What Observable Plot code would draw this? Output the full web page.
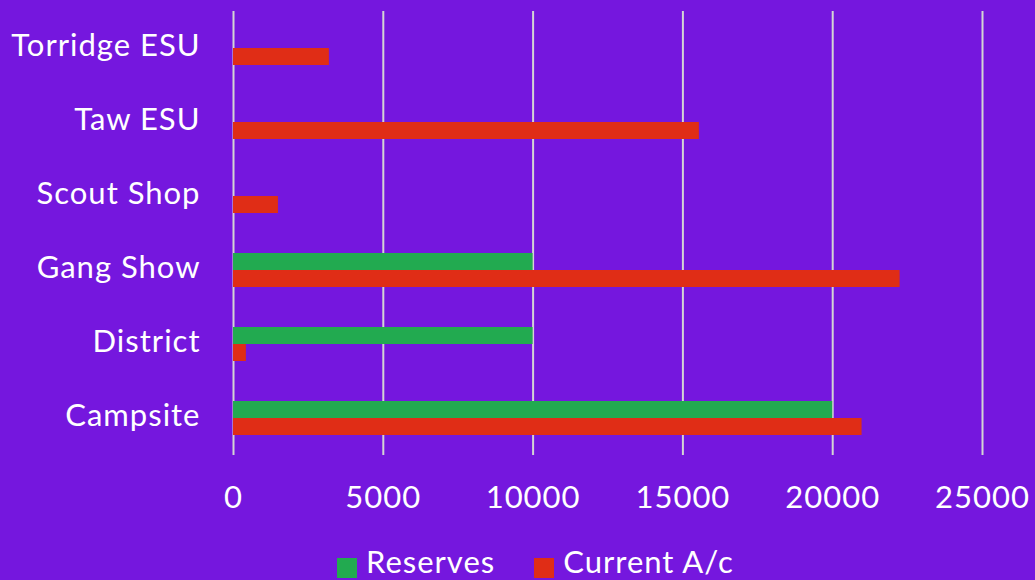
<!DOCTYPE html>
<html>
<head>
<meta charset="utf-8">
<script src="https://cdn.jsdelivr.net/npm/d3@7"></script>
<script src="https://cdn.jsdelivr.net/npm/@observablehq/plot@0.6"></script>
<style>
  html, body { margin: 0; padding: 0; background: #7517DE; overflow: hidden; }
  #chart { width: 1035px; height: 580px; background: #7517DE; font-family: Lato, sans-serif; color: #fff; }
  #chart svg text { letter-spacing: 1px; }
  .legend { display: flex; align-items: baseline; padding-left: 337px; padding-top: 7px; line-height: 37px; height: 37px; font-size: 31px; letter-spacing: 1px; }
  .legend .item { display: inline-flex; align-items: baseline; margin-right: 39px; white-space: nowrap; }
  .legend .sw { display: inline-block; width: 20px; height: 20px; margin-right: 9px; align-self: flex-end; margin-bottom: 2px; }
</style>
</head>
<body>
<div id="chart"></div>
<script>
// Funds held by each part of the district, split into reserves and current account
const categories = ["Torridge ESU", "Taw ESU", "Scout Shop", "Gang Show", "District", "Campsite"];
const series = ["Reserves", "Current A/c"];
const reserves = [null, null, null, 10000, 10000, 20000];
const current = [3200, 15550, 1500, 22250, 430, 20980];
const xTicks = [0, 5000, 10000, 15000, 20000, 25000];
const colors = ["#22AA50", "#E02D16"];

const rows = [];
categories.forEach((c, i) => {
  if (reserves[i] != null) rows.push({category: c, series: series[0], value: reserves[i]});
  if (current[i] != null) rows.push({category: c, series: series[1], value: current[i]});
});

const chart = Plot.plot({
  width: 1035,
  height: 536,
  marginLeft: 233,
  marginRight: 53,
  marginTop: 10,
  marginBottom: 80,
  style: {background: "#7517DE", color: "#fff", fontFamily: "Lato, sans-serif", fontSize: "31px"},
  x: {domain: [0, 25000], label: null},
  fy: {domain: categories, padding: 0, label: null},
  y: {domain: series, paddingInner: 0, paddingOuter: 1.065, axis: null, label: null},
  color: {domain: series, range: colors},
  marks: [
    Plot.gridX(xTicks, {stroke: "#d4d4d4", strokeOpacity: 1, strokeWidth: 2}),
    Plot.barX(rows, {x: "value", y: "series", fy: "category", fill: "series"}),
    Plot.axisX({ticks: xTicks, tickSize: 0, tickPadding: 30, tickFormat: "d", fill: "#fff", fontSize: 31}),
    Plot.axisFy({anchor: "left", tickSize: 0, tickPadding: 33, dy: -2, fill: "#fff", fontSize: 31, label: null})
  ]
});

const root = document.getElementById("chart");
root.appendChild(chart);

// Legend below the plot
const legend = document.createElement("div");
legend.className = "legend";
series.forEach((s, i) => {
  const item = document.createElement("span");
  item.className = "item";
  const sw = document.createElement("span");
  sw.className = "sw";
  sw.style.background = colors[i];
  const label = document.createElement("span");
  label.textContent = s;
  item.appendChild(sw);
  item.appendChild(label);
  legend.appendChild(item);
});
root.appendChild(legend);
</script>
</body>
</html>
